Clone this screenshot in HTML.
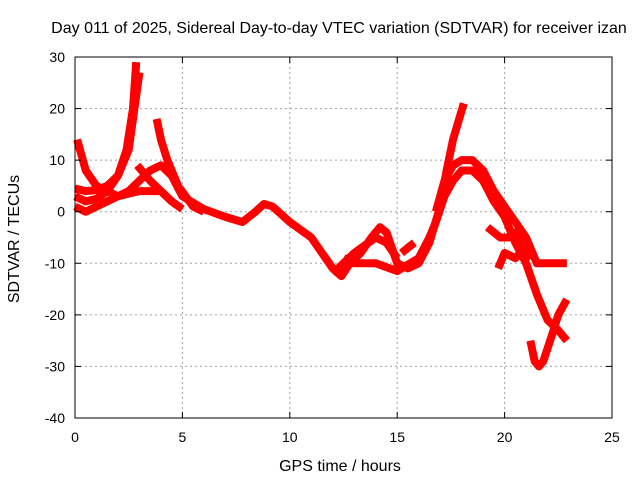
<!DOCTYPE html>
<html><head><meta charset="utf-8"><style>
body{margin:0;background:#fff}
svg{font-family:"Liberation Sans",sans-serif;font-size:14px}
.big{font-size:16px}
</style></head><body>
<svg id="chart" width="640" height="480">
<text class="big" x="339" y="33" text-anchor="middle">Day 011 of 2025, Sidereal Day-to-day VTEC variation (SDTVAR) for receiver izan</text>
<text class="big" x="340" y="471" text-anchor="middle">GPS time / hours</text>
<text class="big" transform="translate(19,239) rotate(-90)" text-anchor="middle">SDTVAR / TECUs</text>
<g id="grid"></g><g id="series"></g><g id="axes"></g>
</svg>
<script>
const xTicks=[0,5,10,15,20,25];
const yTicks=[30,20,10,0,-10,-20,-30,-40];
const trackA=[[0.1,14],[0.5,8],[1,5],[1.5,4],[2,3],[2.5,3.5],[3,4],[4,4],[4.5,2]];
const trackB=[[0,3],[0.5,2],[1,2.5],[1.5,4],[2,7],[2.4,12],[2.7,20],[2.85,29]];
const trackC=[[0,4.5],[0.5,4],[1,4.2],[1.5,5],[2,7],[2.5,12],[2.9,24],[3,27]];
const trackD=[[0,1],[0.5,0],[1,1],[1.5,2],[2.5,4],[3,6],[3.5,8],[4,9],[4.5,7],[5,3],[6,0.5],[7,-1],[7.8,-2],[8.4,0],[8.8,1.5],[9.2,1],[10,-2],[11,-5],[11.5,-8],[12,-11],[12.4,-12.5],[12.8,-10],[13.3,-8],[13.8,-5],[14.2,-3],[14.5,-4],[15,-10],[15.5,-11],[16,-10],[16.5,-6],[17,1],[17.3,8],[17.6,14],[18.1,21]];
const trackE=[[3.8,18],[4,14],[4.3,10],[4.8,5],[5.5,1],[6,0]];
const trackF=[[2.9,9],[3.5,6],[4,4],[4.5,2],[5,0.5]];
const trackG=[[12,-12],[12.5,-10],[13,-8],[13.5,-6.5],[14,-5],[14.5,-6],[15,-9]];
const trackG2=[[12.5,-9],[13,-10],[14,-10],[15,-11.5],[16,-9],[16.5,-5],[16.8,-2],[17.2,3],[17.6,6],[18,8],[18.5,8],[19,6],[19.5,2],[20,-1],[20.5,-6],[21,-10],[21.5,-16],[22,-21],[22.5,-23],[22.9,-25]];
const trackH=[[16.8,0],[17.2,6],[17.6,9],[18,10],[18.5,10],[19,8],[19.5,4],[20,1],[20.5,-2],[21,-5],[21.5,-10],[22,-10],[22.5,-10],[22.9,-10]];
const trackI=[[19.2,-3],[19.5,-4],[19.8,-5],[20.2,-5],[20.5,-4],[21,-9],[21.2,-8]];
const trackJ=[[19.7,-11],[20,-8],[20.5,-9],[21,-7],[21.3,-7]];
const trackK=[[21.2,-25],[21.4,-29],[21.6,-30],[21.8,-29],[22.2,-24],[22.5,-20],[22.9,-17]];
const trackL=[[15.2,-8],[15.8,-6]];
const tracks=[trackA,trackB,trackC,trackD,trackE,trackF,trackG,trackG2,trackH,trackI,trackJ,trackK,trackL];
const L=75,R=612,T=57,B=418;
const sx=v=>L+(v-0)/25*(R-L), sy=v=>T+(30-v)/70*(B-T);
const NS='http://www.w3.org/2000/svg';
function mk(t,a,p){const e=document.createElementNS(NS,t);for(const k in a)e.setAttribute(k,a[k]);p.appendChild(e);return e;}
const grid=document.getElementById('grid'),axes=document.getElementById('axes'),ser=document.getElementById('series');
xTicks.forEach(t=>{const x=sx(t);
 if(t>0&&t<25){const g=mk('line',{x1:x,x2:x,y1:T,y2:B,stroke:'#a0a0a0','stroke-dasharray':'2,3'},grid);}
 mk('line',{x1:x,x2:x,y1:B,y2:B-6,stroke:'#000'},axes);mk('line',{x1:x,x2:x,y1:T,y2:T+6,stroke:'#000'},axes);
 const tx=mk('text',{x:x,y:B+24,'text-anchor':'middle'},axes);tx.textContent=t;
 });
yTicks.forEach(t=>{const y=sy(t);
 if(t<30&&t>-40){const g=mk('line',{x1:L,x2:R,y1:y,y2:y,stroke:'#a0a0a0','stroke-dasharray':'2,3'},grid);}
 mk('line',{x1:L,x2:L+6,y1:y,y2:y,stroke:'#000'},axes);mk('line',{x1:R,x2:R-6,y1:y,y2:y,stroke:'#000'},axes);
 const tx=mk('text',{x:L-10,y:y+5,'text-anchor':'end'},axes);tx.textContent=t;
 });
const fr=mk('rect',{x:L,y:T,width:R-L,height:B-T,fill:'none',stroke:'#000'},axes);

tracks.forEach(tr=>{
 const p=mk('polyline',{points:tr.map(d=>sx(d[0])+','+sy(d[1])).join(' '),fill:'none',stroke:'#ff0000','stroke-width':8,'stroke-linejoin':'round','stroke-linecap':'butt'},ser);
 
 
});
</script>
</body></html>
